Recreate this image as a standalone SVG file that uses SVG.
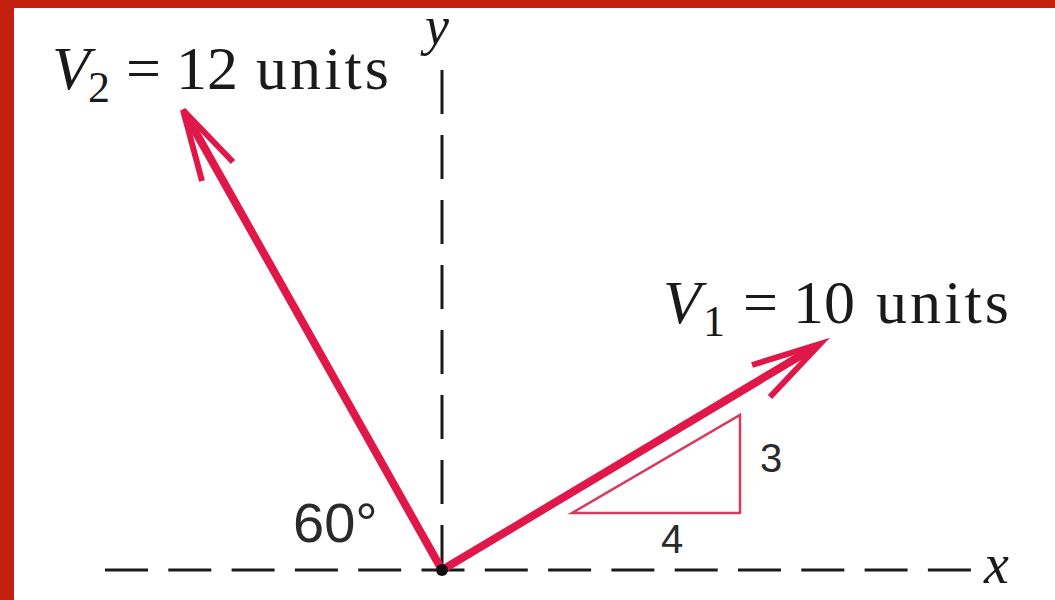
<svg xmlns="http://www.w3.org/2000/svg" width="1055" height="600" viewBox="0 0 1055 600">
<style>
.axis{stroke:#1a1a1a;stroke-width:3;fill:none}
.vec{stroke:#e0184a;stroke-width:8;fill:none;stroke-linecap:butt}
.head{stroke:#e0184a;stroke-width:6;fill:none;stroke-linejoin:miter;stroke-linecap:butt}
.tri{stroke:#d83a5e;stroke-width:2.5;fill:none}
.serif{font-family:"Liberation Serif","Times New Roman",serif;fill:#1a1a1a}
.sans{font-family:"Liberation Sans",Arial,sans-serif;fill:#2a2a2a}
</style>
<rect x="0" y="0" width="1055" height="600" fill="#ffffff"/>
<rect x="0" y="0" width="1055" height="8" fill="#c4200f"/>
<rect x="0" y="0" width="14" height="600" fill="#c4200f"/>
<g id="connectors">
  <line id="x-axis" class="axis" x1="105" y1="570" x2="975" y2="570" stroke-dasharray="43 20.3"/>
  <line id="y-axis" class="axis" x1="442" y1="70" x2="442" y2="570" stroke-dasharray="44 21"/>
  <g id="v2-arrow">
    <line class="vec" x1="442" y1="570" x2="186" y2="115"/>
    <path class="head" d="M233,162 L183,110 L202,181"/>
  </g>
  <g id="v1-arrow">
    <line class="vec" x1="442" y1="570" x2="815" y2="347"/>
    <path class="head" d="M752,365 L820,344 L770,397"/>
  </g>
  <polygon id="slope-triangle" class="tri" points="572,513 740,513 740,415"/>
</g>
<circle id="origin" cx="442" cy="570" r="6" fill="#111"/>
<g id="label-v2">
  <text class="serif" font-size="62" y="89"><tspan x="52" font-style="italic">V</tspan><tspan x="88" y="102" font-size="44">2</tspan><tspan x="126" y="89">=</tspan><tspan x="176" y="89">12</tspan></text>
  <text class="serif" font-size="62" x="256" y="89" textLength="133" lengthAdjust="spacing">units</text>
</g>
<g id="label-v1">
  <text class="serif" font-size="62" y="323"><tspan x="663" font-style="italic">V</tspan><tspan x="703" y="336" font-size="44">1</tspan><tspan x="743" y="323">=</tspan><tspan x="793" y="323">10</tspan></text>
  <text class="serif" font-size="62" x="876" y="323" textLength="133" lengthAdjust="spacing">units</text>
</g>
<g id="label-axes">
  <text class="serif" font-size="54" font-style="italic" x="425" y="44">y</text>
  <text class="serif" font-size="56" font-style="italic" x="984" y="583">x</text>
</g>
<g id="label-angle">
  <text class="sans" font-size="56" x="293" y="542">60°</text>
</g>
<g id="label-slope">
  <text class="sans" font-size="40" x="760" y="472">3</text>
  <text class="sans" font-size="40" x="661" y="553">4</text>
</g>
</svg>
